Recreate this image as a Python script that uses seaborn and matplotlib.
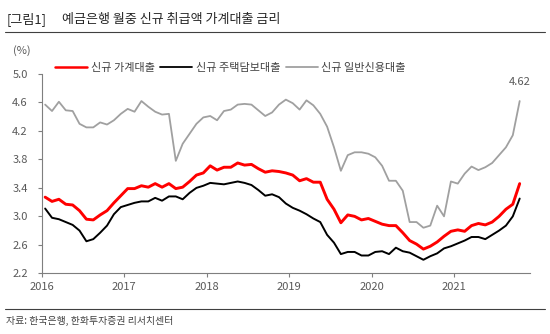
import numpy as np
import pandas as pd
import matplotlib
matplotlib.use("Agg")
import matplotlib.pyplot as plt
import seaborn as sns
from matplotlib.lines import Line2D

sns.set_theme(style="white")
plt.rcParams["font.family"] = ["Noto Sans CJK KR", "DejaVu Sans"]

# ---------------- data ----------------
title_tag = "[그림1]"
title = "예금은행 월중 신규 취급액 가계대출 금리"
source = "자료: 한국은행, 한화투자증권 리서치센터"
unit = "(%)"
series_names = ["신규 가계대출", "신규 주택담보대출", "신규 일반신용대출"]
year_labels = ["2016", "2017", "2018", "2019", "2020", "2021"]
yticks = [2.2, 2.6, 3.0, 3.4, 3.8, 4.2, 4.6, 5.0]
last_label = "4.62"

# monthly, Jan 2016 - Oct 2021
household = [3.27, 3.21, 3.24, 3.17, 3.16, 3.08, 2.96, 2.95, 3.02, 3.08, 3.19, 3.29,
             3.39, 3.39, 3.43, 3.41, 3.46, 3.41, 3.46, 3.39, 3.41, 3.49, 3.58, 3.61,
             3.71, 3.65, 3.69, 3.69, 3.75, 3.72, 3.73, 3.67, 3.62, 3.64, 3.63, 3.61,
             3.58, 3.50, 3.53, 3.48, 3.48, 3.24, 3.10, 2.91, 3.02, 3.00, 2.95, 2.97,
             2.93, 2.89, 2.87, 2.87, 2.77, 2.66, 2.61, 2.54, 2.58, 2.64, 2.72, 2.79,
             2.81, 2.79, 2.87, 2.90, 2.88, 2.92, 3.00, 3.10, 3.17, 3.46]
mortgage = [3.11, 2.98, 2.96, 2.92, 2.88, 2.80, 2.65, 2.68, 2.77, 2.87, 3.03, 3.13,
            3.16, 3.19, 3.21, 3.21, 3.26, 3.22, 3.28, 3.28, 3.24, 3.33, 3.40, 3.43,
            3.47, 3.46, 3.45, 3.47, 3.49, 3.47, 3.44, 3.37, 3.29, 3.31, 3.27, 3.18,
            3.12, 3.08, 3.03, 2.97, 2.92, 2.74, 2.63, 2.47, 2.50, 2.50, 2.45, 2.45,
            2.50, 2.51, 2.47, 2.56, 2.51, 2.49, 2.44, 2.39, 2.44, 2.48, 2.55, 2.58,
            2.62, 2.66, 2.71, 2.71, 2.68, 2.74, 2.80, 2.87, 3.00, 3.25]
credit = [4.57, 4.48, 4.61, 4.49, 4.48, 4.30, 4.25, 4.25, 4.32, 4.29, 4.35, 4.44,
          4.51, 4.47, 4.62, 4.54, 4.47, 4.43, 4.44, 3.78, 4.02, 4.16, 4.30, 4.39,
          4.41, 4.35, 4.48, 4.50, 4.57, 4.58, 4.57, 4.49, 4.41, 4.46, 4.57, 4.64,
          4.59, 4.50, 4.63, 4.56, 4.44, 4.26, 3.97, 3.64, 3.86, 3.90, 3.90, 3.88,
          3.83, 3.71, 3.50, 3.50, 3.36, 2.92, 2.92, 2.84, 2.87, 3.15, 3.00, 3.49,
          3.46, 3.60, 3.70, 3.65, 3.69, 3.75, 3.86, 3.97, 4.14, 4.62]

colors = {"신규 가계대출": "#FF0000", "신규 주택담보대출": "#000000", "신규 일반신용대출": "#A0A0A0"}
widths = {"신규 가계대출": 2.1, "신규 주택담보대출": 1.4, "신규 일반신용대출": 1.3}

n = len(household)
df = pd.DataFrame({"month": np.arange(n),
                   series_names[0]: household,
                   series_names[1]: mortgage,
                   series_names[2]: credit})
long = df.melt(id_vars="month", var_name="series", value_name="rate")

# ---------------- figure ----------------
fig = plt.figure(figsize=(5.5, 3.34), dpi=100)
ax = fig.add_axes([41.7 / 550, 1 - 273.3 / 334, (530 - 41.7) / 550, (273.3 - 74) / 334])

for name in [series_names[2], series_names[1], series_names[0]]:
    sub = long[long["series"] == name]
    sns.lineplot(data=sub, x="month", y="rate", ax=ax, color=colors[name],
                 linewidth=widths[name], legend=False)

ax.set_xlim(-0.5, 70.5)
ax.set_ylim(2.2, 5.0)
ax.set_yticks(yticks)
ax.set_yticklabels([f"{v:.1f}" for v in yticks])
ax.set_xticks([-0.5 + 12 * i for i in range(len(year_labels))])
ax.set_xticklabels(year_labels)
ax.set_xlabel("")
ax.set_ylabel("")

for s in ["top", "right"]:
    ax.spines[s].set_visible(False)
for s in ["left", "bottom"]:
    ax.spines[s].set_color("#7F7F7F")
    ax.spines[s].set_linewidth(0.8)

ax.tick_params(axis="y", direction="out", length=3, width=0.8, color="#7F7F7F",
               labelcolor="#595959", labelsize=8, pad=7, left=True)
ax.tick_params(axis="x", direction="out", length=3, width=0.8, color="#7F7F7F",
               labelcolor="#595959", labelsize=8, pad=3.5, bottom=True)

# annotation on last point
ax.annotate(last_label, xy=(n - 1, credit[-1]), xytext=(0, 13.5),
            textcoords="offset points", ha="center", va="center",
            fontsize=8, color="#595959")

# legend
handles = [Line2D([0], [0], color=colors[nm], linewidth=(1.8 if i == 0 else 1.3))
           for i, nm in enumerate(series_names)]
fig.legend(handles, series_names, loc="center left",
           bbox_to_anchor=(55 / 550, 1 - 68 / 334), ncol=3, frameon=False,
           fontsize=8, handlelength=2.9, handletextpad=0.3, columnspacing=0.5,
           borderpad=0, borderaxespad=0, labelcolor="#404040")

# titles and frame lines
fig.text(7 / 550, 1 - 19 / 334, title_tag, fontsize=9.4, va="center", ha="left", color="#262626")
fig.text(62 / 550, 1 - 19 / 334, title, fontsize=9.4, va="center", ha="left", color="#262626")
fig.add_artist(Line2D([5 / 550, 545 / 550], [1 - 32 / 334, 1 - 32 / 334],
                      color="#404040", linewidth=0.8))
fig.text(22 / 550, 1 - 51 / 334, unit, fontsize=8, va="center", ha="center", color="#595959")
fig.add_artist(Line2D([5 / 550, 545 / 550], [1 - 309 / 334, 1 - 309 / 334],
                      color="#404040", linewidth=0.8))
fig.text(6 / 550, 1 - 321 / 334, source, fontsize=7.1, va="center", ha="left", color="#404040")

fig.savefig("out.png", dpi=100)
